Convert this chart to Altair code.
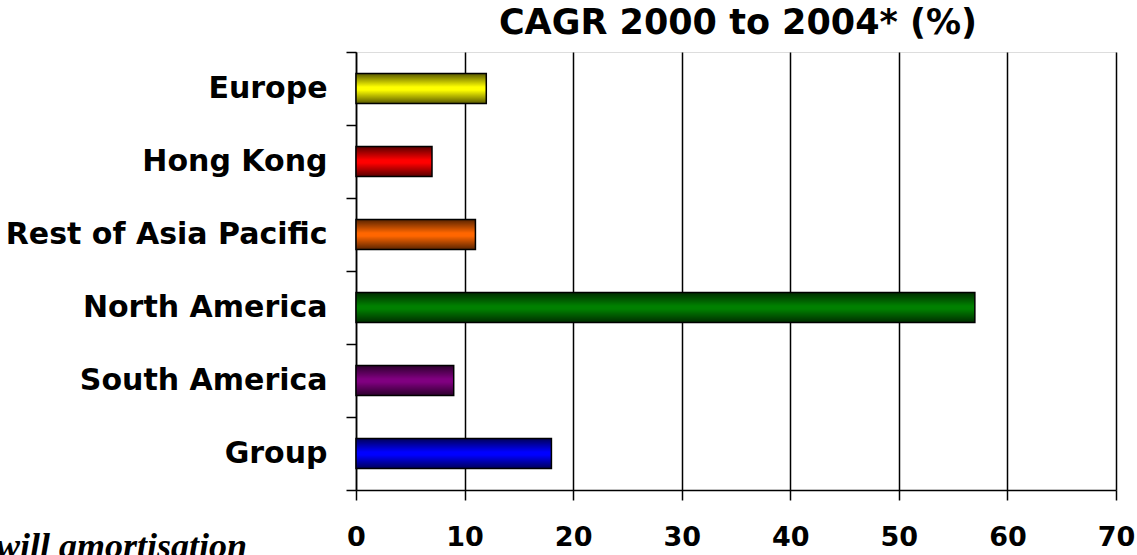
import altair as alt
import pandas as pd

# Compound annual growth rate by region, 2000 to 2004
regions = ["Europe", "Hong Kong", "Rest of Asia Pacific", "North America", "South America", "Group"]
cagr = [12, 7, 11, 57, 9, 18]
bar_colors = ["#FFFF00", "#FF0000", "#FF6600", "#008000", "#800080", "#0000FF"]
x_ticks = [0, 10, 20, 30, 40, 50, 60, 70]

title_text = "CAGR 2000 to 2004* (%)"
footnote_text = "* Before goodwill amortisation"

df = pd.DataFrame({"region": regions, "cagr": cagr})

FONT = "DejaVu Sans"
PLOT_W = 760
PLOT_H = 438

y_enc = alt.Y(
    "region:N",
    sort=regions,
    title=None,
    scale=alt.Scale(paddingInner=0, paddingOuter=0),
    axis=alt.Axis(
        tickBand="extent",
        tickSize=10,
        tickColor="black",
        tickWidth=1.5,
        domainColor="black",
        domainWidth=1.5,
        labelFont=FONT,
        labelFontWeight="bold",
        labelFontSize=30,
        labelColor="black",
        labelPadding=19,
        labelLimit=400,
    ),
)

x_enc = alt.X(
    "cagr:Q",
    title=None,
    scale=alt.Scale(domain=[0, 70], nice=False),
    axis=alt.Axis(
        values=x_ticks,
        grid=True,
        gridColor="black",
        gridWidth=1.5,
        tickSize=10,
        tickColor="black",
        tickWidth=1.5,
        domainColor="black",
        domainWidth=1.5,
        labelFont=FONT,
        labelFontWeight="bold",
        labelFontSize=27,
        labelColor="black",
        labelPadding=24,
        labelFlush=False,
    ),
)

BAR_BAND = alt.RelativeBandSize(0.41)

bars = alt.Chart(df).mark_bar(height=BAR_BAND).encode(
    x=x_enc,
    y=y_enc,
    color=alt.Color("region:N", scale=alt.Scale(domain=regions, range=bar_colors), legend=None),
)

# darkened top and bottom edges give each bar a rounded, shaded look
shade = alt.Chart(df).mark_bar(
    height=BAR_BAND,
    stroke="black",
    strokeWidth=1.5,
    color=alt.Gradient(
        gradient="linear",
        x1=0, x2=0, y1=0, y2=1,
        stops=[
            alt.GradientStop(color="rgba(0,0,0,0.65)", offset=0),
            alt.GradientStop(color="rgba(0,0,0,0)", offset=0.45),
            alt.GradientStop(color="rgba(0,0,0,0)", offset=0.55),
            alt.GradientStop(color="rgba(0,0,0,0.65)", offset=1),
        ],
    ),
).encode(x="cagr:Q", y=alt.Y("region:N", sort=regions))

title = alt.Chart(pd.DataFrame({"t": [title_text]})).mark_text(
    font=FONT,
    fontWeight="bold",
    fontSize=35,
    align="center",
    baseline="alphabetic",
    color="black",
).encode(text="t:N", x=alt.value(PLOT_W / 2 + 2), y=alt.value(-18))

note = alt.Chart(pd.DataFrame({"t": [footnote_text]})).mark_text(
    font="Liberation Serif",
    fontStyle="italic",
    fontWeight="bold",
    fontSize=36,
    align="right",
    baseline="alphabetic",
    color="black",
).encode(text="t:N", x=alt.value(-109), y=alt.value(506))

chart = (
    alt.layer(bars, shade, title, note)
    .properties(
        width=PLOT_W,
        height=PLOT_H,
        autosize=alt.AutoSizeParams(type="none"),
        padding={"left": 356, "top": 52, "right": 21, "bottom": 65},
    )
    .configure_view(stroke=None)
    .configure(background="white")
)

chart.save("out.html", embed_options={"renderer": "svg", "actions": False})
